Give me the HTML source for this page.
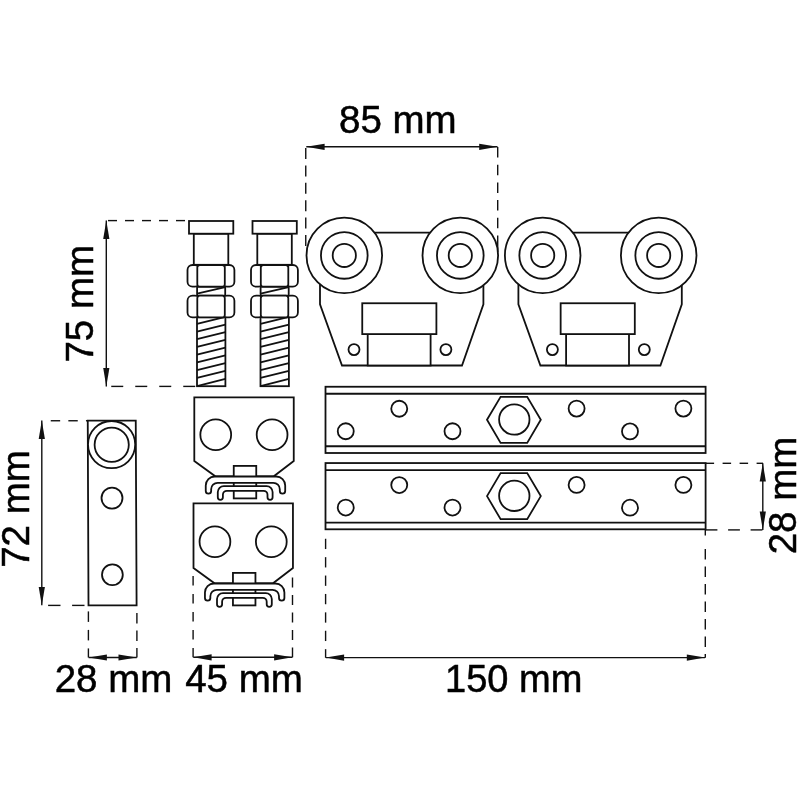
<!DOCTYPE html><html><head><meta charset="utf-8"><style>html,body{margin:0;padding:0;background:#fff;overflow:hidden}svg{display:block;filter:grayscale(1)}</style></head><body>
<svg width="800" height="800" viewBox="0 0 800 800" font-family="&apos;Liberation Sans&apos;, sans-serif" font-size="38.5">
<rect width="800" height="800" fill="#fff"/>
<g fill="#000" stroke="#000" stroke-width="0.5">
<text x="339" y="132.7">85 mm</text>
<text x="54.7" y="691.8">28 mm</text>
<text x="185.2" y="692">45 mm</text>
<text x="445" y="692" textLength="137.5" lengthAdjust="spacingAndGlyphs">150 mm</text>
<text transform="translate(92.9,362.6) rotate(-90)">75 mm</text>
<text transform="translate(28.5,567.8) rotate(-90)">72 mm</text>
<text transform="translate(795.9,554.3) rotate(-90)">28 mm</text>
</g>
<line x1="305.75" y1="148.00" x2="305.75" y2="159.00" stroke="#111" stroke-width="1.4"/>
<line x1="305.75" y1="165.40" x2="305.75" y2="176.40" stroke="#111" stroke-width="1.4"/>
<line x1="305.75" y1="182.80" x2="305.75" y2="193.80" stroke="#111" stroke-width="1.4"/>
<line x1="305.75" y1="200.20" x2="305.75" y2="211.20" stroke="#111" stroke-width="1.4"/>
<line x1="305.75" y1="217.60" x2="305.75" y2="228.60" stroke="#111" stroke-width="1.4"/>
<line x1="305.75" y1="235.00" x2="305.75" y2="246.00" stroke="#111" stroke-width="1.4"/>
<line x1="497.7" y1="147.00" x2="497.7" y2="157.50" stroke="#111" stroke-width="1.4"/>
<line x1="497.7" y1="164.70" x2="497.7" y2="175.20" stroke="#111" stroke-width="1.4"/>
<line x1="497.7" y1="182.40" x2="497.7" y2="192.90" stroke="#111" stroke-width="1.4"/>
<line x1="497.7" y1="200.10" x2="497.7" y2="210.60" stroke="#111" stroke-width="1.4"/>
<line x1="497.7" y1="217.80" x2="497.7" y2="228.30" stroke="#111" stroke-width="1.4"/>
<line x1="497.7" y1="235.5" x2="497.7" y2="252" stroke="#111" stroke-width="1.4"/>
<line x1="306.3" y1="146.8" x2="497.5" y2="146.8" stroke="#111" stroke-width="1.4"/>
<polygon points="306.30,146.80 324.60,143.70 324.60,149.90" fill="#111"/>
<polygon points="497.50,146.80 479.20,149.90 479.20,143.70" fill="#111"/>
<line x1="108.00" y1="220.6" x2="117.00" y2="220.6" stroke="#111" stroke-width="1.4"/>
<line x1="125.00" y1="220.6" x2="134.00" y2="220.6" stroke="#111" stroke-width="1.4"/>
<line x1="142.00" y1="220.6" x2="151.00" y2="220.6" stroke="#111" stroke-width="1.4"/>
<line x1="159.00" y1="220.6" x2="168.00" y2="220.6" stroke="#111" stroke-width="1.4"/>
<line x1="176.00" y1="220.6" x2="185.00" y2="220.6" stroke="#111" stroke-width="1.4"/>
<line x1="111.25" y1="386.4" x2="123.25" y2="386.4" stroke="#111" stroke-width="1.4"/>
<line x1="135.25" y1="386.4" x2="147.25" y2="386.4" stroke="#111" stroke-width="1.4"/>
<line x1="159.25" y1="386.4" x2="171.25" y2="386.4" stroke="#111" stroke-width="1.4"/>
<line x1="183.25" y1="386.4" x2="195.25" y2="386.4" stroke="#111" stroke-width="1.4"/>
<line x1="106.3" y1="220.6" x2="106.3" y2="386.4" stroke="#111" stroke-width="1.4"/>
<polygon points="106.30,220.60 109.40,238.90 103.20,238.90" fill="#111"/>
<polygon points="106.30,386.40 103.20,368.10 109.40,368.10" fill="#111"/>
<line x1="50.75" y1="420.75" x2="60.15" y2="420.75" stroke="#111" stroke-width="1.4"/>
<line x1="68.35" y1="420.75" x2="77.75" y2="420.75" stroke="#111" stroke-width="1.4"/>
<line x1="85.95" y1="420.75" x2="88.00" y2="420.75" stroke="#111" stroke-width="1.4"/>
<line x1="48.10" y1="605.4" x2="60.50" y2="605.4" stroke="#111" stroke-width="1.4"/>
<line x1="72.10" y1="605.4" x2="84.50" y2="605.4" stroke="#111" stroke-width="1.4"/>
<line x1="41.8" y1="420.6" x2="41.8" y2="605.2" stroke="#111" stroke-width="1.4"/>
<polygon points="41.80,420.60 44.90,438.90 38.70,438.90" fill="#111"/>
<polygon points="41.80,605.20 38.70,586.90 44.90,586.90" fill="#111"/>
<line x1="88.4" y1="611.40" x2="88.4" y2="621.90" stroke="#111" stroke-width="1.4"/>
<line x1="88.4" y1="629.90" x2="88.4" y2="640.40" stroke="#111" stroke-width="1.4"/>
<line x1="88.4" y1="648.40" x2="88.4" y2="657.50" stroke="#111" stroke-width="1.4"/>
<line x1="136.9" y1="613.00" x2="136.9" y2="623.50" stroke="#111" stroke-width="1.4"/>
<line x1="136.9" y1="630.50" x2="136.9" y2="641.00" stroke="#111" stroke-width="1.4"/>
<line x1="136.9" y1="648.00" x2="136.9" y2="657.50" stroke="#111" stroke-width="1.4"/>
<line x1="88.6" y1="657.5" x2="136.8" y2="657.5" stroke="#111" stroke-width="1.4"/>
<polygon points="88.60,657.50 106.90,654.40 106.90,660.60" fill="#111"/>
<polygon points="136.80,657.50 118.50,660.60 118.50,654.40" fill="#111"/>
<line x1="193.1" y1="576.00" x2="193.1" y2="585.60" stroke="#111" stroke-width="1.4"/>
<line x1="193.1" y1="594.00" x2="193.1" y2="603.60" stroke="#111" stroke-width="1.4"/>
<line x1="193.1" y1="612.00" x2="193.1" y2="621.60" stroke="#111" stroke-width="1.4"/>
<line x1="193.1" y1="630.00" x2="193.1" y2="639.60" stroke="#111" stroke-width="1.4"/>
<line x1="193.1" y1="648.00" x2="193.1" y2="657.30" stroke="#111" stroke-width="1.4"/>
<line x1="292.5" y1="577.50" x2="292.5" y2="587.50" stroke="#111" stroke-width="1.4"/>
<line x1="292.5" y1="595.00" x2="292.5" y2="605.00" stroke="#111" stroke-width="1.4"/>
<line x1="292.5" y1="612.50" x2="292.5" y2="622.50" stroke="#111" stroke-width="1.4"/>
<line x1="292.5" y1="630.00" x2="292.5" y2="640.00" stroke="#111" stroke-width="1.4"/>
<line x1="292.5" y1="647.50" x2="292.5" y2="657.30" stroke="#111" stroke-width="1.4"/>
<line x1="193.3" y1="657.3" x2="292.4" y2="657.3" stroke="#111" stroke-width="1.4"/>
<polygon points="193.30,657.30 211.60,654.20 211.60,660.40" fill="#111"/>
<polygon points="292.40,657.30 274.10,660.40 274.10,654.20" fill="#111"/>
<line x1="325.6" y1="538.75" x2="325.6" y2="549.05" stroke="#111" stroke-width="1.4"/>
<line x1="325.6" y1="557.15" x2="325.6" y2="567.45" stroke="#111" stroke-width="1.4"/>
<line x1="325.6" y1="575.55" x2="325.6" y2="585.85" stroke="#111" stroke-width="1.4"/>
<line x1="325.6" y1="593.95" x2="325.6" y2="604.25" stroke="#111" stroke-width="1.4"/>
<line x1="325.6" y1="612.35" x2="325.6" y2="622.65" stroke="#111" stroke-width="1.4"/>
<line x1="325.6" y1="630.75" x2="325.6" y2="641.05" stroke="#111" stroke-width="1.4"/>
<line x1="325.6" y1="649.15" x2="325.6" y2="657.80" stroke="#111" stroke-width="1.4"/>
<line x1="705.3" y1="529" x2="705.3" y2="535.5" stroke="#111" stroke-width="1.4"/>
<line x1="705.3" y1="549.00" x2="705.3" y2="559.50" stroke="#111" stroke-width="1.4"/>
<line x1="705.3" y1="566.50" x2="705.3" y2="577.00" stroke="#111" stroke-width="1.4"/>
<line x1="705.3" y1="584.00" x2="705.3" y2="594.50" stroke="#111" stroke-width="1.4"/>
<line x1="705.3" y1="601.50" x2="705.3" y2="612.00" stroke="#111" stroke-width="1.4"/>
<line x1="705.3" y1="619.00" x2="705.3" y2="629.50" stroke="#111" stroke-width="1.4"/>
<line x1="705.3" y1="636.50" x2="705.3" y2="647.00" stroke="#111" stroke-width="1.4"/>
<line x1="705.3" y1="654.00" x2="705.3" y2="657.80" stroke="#111" stroke-width="1.4"/>
<line x1="325.8" y1="657.6" x2="705.1" y2="657.6" stroke="#111" stroke-width="1.4"/>
<polygon points="325.80,657.60 344.10,654.50 344.10,660.70" fill="#111"/>
<polygon points="705.10,657.60 686.80,660.70 686.80,654.50" fill="#111"/>
<line x1="705.60" y1="463.3" x2="714.10" y2="463.3" stroke="#111" stroke-width="1.4"/>
<line x1="722.60" y1="463.3" x2="731.10" y2="463.3" stroke="#111" stroke-width="1.4"/>
<line x1="739.60" y1="463.3" x2="748.10" y2="463.3" stroke="#111" stroke-width="1.4"/>
<line x1="756.60" y1="463.3" x2="763.00" y2="463.3" stroke="#111" stroke-width="1.4"/>
<line x1="705.60" y1="529.9" x2="717.40" y2="529.9" stroke="#111" stroke-width="1.4"/>
<line x1="728.10" y1="529.9" x2="739.90" y2="529.9" stroke="#111" stroke-width="1.4"/>
<line x1="750.60" y1="529.9" x2="762.40" y2="529.9" stroke="#111" stroke-width="1.4"/>
<line x1="762.8" y1="463.3" x2="762.8" y2="529.9" stroke="#111" stroke-width="1.4"/>
<polygon points="762.80,463.30 765.90,481.60 759.70,481.60" fill="#111"/>
<polygon points="762.80,529.90 759.70,511.60 765.90,511.60" fill="#111"/>
<g fill="#fff" stroke="#111" stroke-width="1.8">
<path d="M87.75,420.6 L135.75,420.6 L136.6,605.3 L88.5,605.3 Z"/>
<circle cx="111.6" cy="444.6" r="23.6"/>
<circle cx="111.7" cy="444.7" r="17.1"/>
<circle cx="112" cy="498.1" r="10.5"/>
<circle cx="112.4" cy="574.8" r="10.4"/>
</g>
<g transform="translate(0,0)" fill="#fff" stroke="#111" stroke-width="1.8">
<rect x="197" y="317.2" width="28.4" height="69"/>
<line x1="197" y1="323.80" x2="225.4" y2="316.80"/>
<line x1="197" y1="331.52" x2="225.4" y2="324.52"/>
<line x1="197" y1="339.24" x2="225.4" y2="332.24"/>
<line x1="197" y1="346.96" x2="225.4" y2="339.96"/>
<line x1="197" y1="354.68" x2="225.4" y2="347.68"/>
<line x1="197" y1="362.40" x2="225.4" y2="355.40"/>
<line x1="197" y1="370.12" x2="225.4" y2="363.12"/>
<line x1="197" y1="377.84" x2="225.4" y2="370.84"/>
<line x1="197" y1="386.20" x2="225.4" y2="378.80"/>
<rect x="197.1" y="286.7" width="28.1" height="9"/>
<line x1="197.1" y1="293.7" x2="225.2" y2="287.1"/>
<rect x="193.8" y="233.7" width="34.5" height="31.1"/>
<rect x="189" y="221" width="44.3" height="12.7"/>
<rect x="187.5" y="265.0" width="12.5" height="21.7" rx="5"/>
<rect x="222" y="265.0" width="12.4" height="21.7" rx="5"/>
<rect x="197.3" y="265.0" width="27.5" height="21.7" rx="2.5"/>
<rect x="187.5" y="295.7" width="12.5" height="21.7" rx="5"/>
<rect x="222" y="295.7" width="12.4" height="21.7" rx="5"/>
<rect x="197.3" y="295.7" width="27.5" height="21.7" rx="2.5"/>
</g>
<g transform="translate(63.5,0)" fill="#fff" stroke="#111" stroke-width="1.8">
<rect x="197" y="317.2" width="28.4" height="69"/>
<line x1="197" y1="323.80" x2="225.4" y2="316.80"/>
<line x1="197" y1="331.52" x2="225.4" y2="324.52"/>
<line x1="197" y1="339.24" x2="225.4" y2="332.24"/>
<line x1="197" y1="346.96" x2="225.4" y2="339.96"/>
<line x1="197" y1="354.68" x2="225.4" y2="347.68"/>
<line x1="197" y1="362.40" x2="225.4" y2="355.40"/>
<line x1="197" y1="370.12" x2="225.4" y2="363.12"/>
<line x1="197" y1="377.84" x2="225.4" y2="370.84"/>
<line x1="197" y1="386.20" x2="225.4" y2="378.80"/>
<rect x="197.1" y="286.7" width="28.1" height="9"/>
<line x1="197.1" y1="293.7" x2="225.2" y2="287.1"/>
<rect x="193.8" y="233.7" width="34.5" height="31.1"/>
<rect x="189" y="221" width="44.3" height="12.7"/>
<rect x="187.5" y="265.0" width="12.5" height="21.7" rx="5"/>
<rect x="222" y="265.0" width="12.4" height="21.7" rx="5"/>
<rect x="197.3" y="265.0" width="27.5" height="21.7" rx="2.5"/>
<rect x="187.5" y="295.7" width="12.5" height="21.7" rx="5"/>
<rect x="222" y="295.7" width="12.4" height="21.7" rx="5"/>
<rect x="197.3" y="295.7" width="27.5" height="21.7" rx="2.5"/>
</g>
<g transform="translate(0,0)" fill="#fff" stroke="#111" stroke-width="1.8">
<path d="M320,232.7 H483.4 V304.4 L462,365.5 H342 L320,304.4 Z"/>
<rect x="367.7" y="334.1" width="62.9" height="31.4"/>
<rect x="362.25" y="303.25" width="74.15" height="30.85"/>
<circle cx="354" cy="349.6" r="5.5"/>
<circle cx="445.9" cy="349.6" r="5.5"/>
<circle cx="344.3" cy="255.4" r="37.8"/>
<circle cx="344.3" cy="255.4" r="23.35"/>
<circle cx="344.3" cy="255.4" r="11.6"/>
<circle cx="460.3" cy="255.4" r="37.8"/>
<circle cx="460.3" cy="255.4" r="23.35"/>
<circle cx="460.3" cy="255.4" r="11.6"/>
</g>
<g transform="translate(198.4,0)" fill="#fff" stroke="#111" stroke-width="1.8">
<path d="M320,232.7 H483.4 V304.4 L462,365.5 H342 L320,304.4 Z"/>
<rect x="367.7" y="334.1" width="62.9" height="31.4"/>
<rect x="362.25" y="303.25" width="74.15" height="30.85"/>
<circle cx="354" cy="349.6" r="5.5"/>
<circle cx="445.9" cy="349.6" r="5.5"/>
<circle cx="344.3" cy="255.4" r="37.8"/>
<circle cx="344.3" cy="255.4" r="23.35"/>
<circle cx="344.3" cy="255.4" r="11.6"/>
<circle cx="460.3" cy="255.4" r="37.8"/>
<circle cx="460.3" cy="255.4" r="23.35"/>
<circle cx="460.3" cy="255.4" r="11.6"/>
</g>
<g transform="translate(0,0)" fill="#fff" stroke="#111" stroke-width="1.8">
<rect x="325.5" y="386.75" width="380.1" height="66.25"/>
<line x1="325.5" y1="393.75" x2="705.6" y2="393.75"/>
<line x1="325.5" y1="446.25" x2="705.6" y2="446.25"/>
<circle cx="345.75" cy="431.25" r="8"/>
<circle cx="399.25" cy="408.75" r="8"/>
<circle cx="452.5" cy="431.25" r="8"/>
<circle cx="576.6" cy="408.6" r="8"/>
<circle cx="630" cy="431.4" r="8"/>
<circle cx="683.4" cy="408.6" r="8"/>
<polygon points="487,419.8 500.6,396.8 527.2,396.8 540.8,419.8 527.2,442.9 500.6,442.9"/>
<circle cx="514.3" cy="419.5" r="15.2"/>
</g>
<g transform="translate(0,76.3)" fill="#fff" stroke="#111" stroke-width="1.8">
<rect x="325.5" y="386.75" width="380.1" height="66.25"/>
<line x1="325.5" y1="393.75" x2="705.6" y2="393.75"/>
<line x1="325.5" y1="446.25" x2="705.6" y2="446.25"/>
<circle cx="345.75" cy="431.25" r="8"/>
<circle cx="399.25" cy="408.75" r="8"/>
<circle cx="452.5" cy="431.25" r="8"/>
<circle cx="576.6" cy="408.6" r="8"/>
<circle cx="630" cy="431.4" r="8"/>
<circle cx="683.4" cy="408.6" r="8"/>
<polygon points="487,419.8 500.6,396.8 527.2,396.8 540.8,419.8 527.2,442.9 500.6,442.9"/>
<circle cx="514.3" cy="419.5" r="15.2"/>
</g>
<g transform="translate(0,0)" fill="#fff" stroke="#111" stroke-width="1.8">
<path d="M194.3,397.3 H293.75 V461 L273.8,476.3 H215.3 L194.3,461 Z"/>
<circle cx="215.75" cy="434.7" r="15.4"/>
<circle cx="272.1" cy="434.7" r="15.4"/>
<rect x="233.75" y="465.9" width="22.5" height="32.5"/>
<path d="M205.75,490.90000000000003 V485.5 A9,9 0 0 1 214.75,476.5 H276.2 A9,9 0 0 1 285.2,485.5 V490.90000000000003 A2.7,2.7 0 0 1 279.8,490.90000000000003 V489.3 A6.5,6.5 0 0 0 273.3,482.8 H217.65 A6.5,6.5 0 0 0 211.15,489.3 V490.90000000000003 A2.7,2.7 0 0 1 205.75,490.90000000000003 Z"/>
<path d="M217.8,497.25 V492.1 A6,6 0 0 1 223.8,486.1 H266.6 A6,6 0 0 1 272.6,492.1 V497.25 A2.55,2.55 0 0 1 267.5,497.25 V494.8 A4,4 0 0 0 263.5,490.8 H226.9 A4,4 0 0 0 222.9,494.8 V497.25 A2.55,2.55 0 0 1 217.8,497.25 Z"/>
</g>
<g transform="translate(-0.8,107)" fill="#fff" stroke="#111" stroke-width="1.8">
<path d="M194.3,396.4 H293.75 V461 L273.8,476.3 H215.3 L194.3,461 Z"/>
<circle cx="215.75" cy="434.7" r="15.4"/>
<circle cx="272.1" cy="434.7" r="15.4"/>
<rect x="233.75" y="465.9" width="22.5" height="32.5"/>
<path d="M205.75,490.90000000000003 V485.5 A9,9 0 0 1 214.75,476.5 H276.2 A9,9 0 0 1 285.2,485.5 V490.90000000000003 A2.7,2.7 0 0 1 279.8,490.90000000000003 V489.3 A6.5,6.5 0 0 0 273.3,482.8 H217.65 A6.5,6.5 0 0 0 211.15,489.3 V490.90000000000003 A2.7,2.7 0 0 1 205.75,490.90000000000003 Z"/>
<path d="M217.8,497.25 V492.1 A6,6 0 0 1 223.8,486.1 H266.6 A6,6 0 0 1 272.6,492.1 V497.25 A2.55,2.55 0 0 1 267.5,497.25 V494.8 A4,4 0 0 0 263.5,490.8 H226.9 A4,4 0 0 0 222.9,494.8 V497.25 A2.55,2.55 0 0 1 217.8,497.25 Z"/>
</g>
</svg></body></html>
